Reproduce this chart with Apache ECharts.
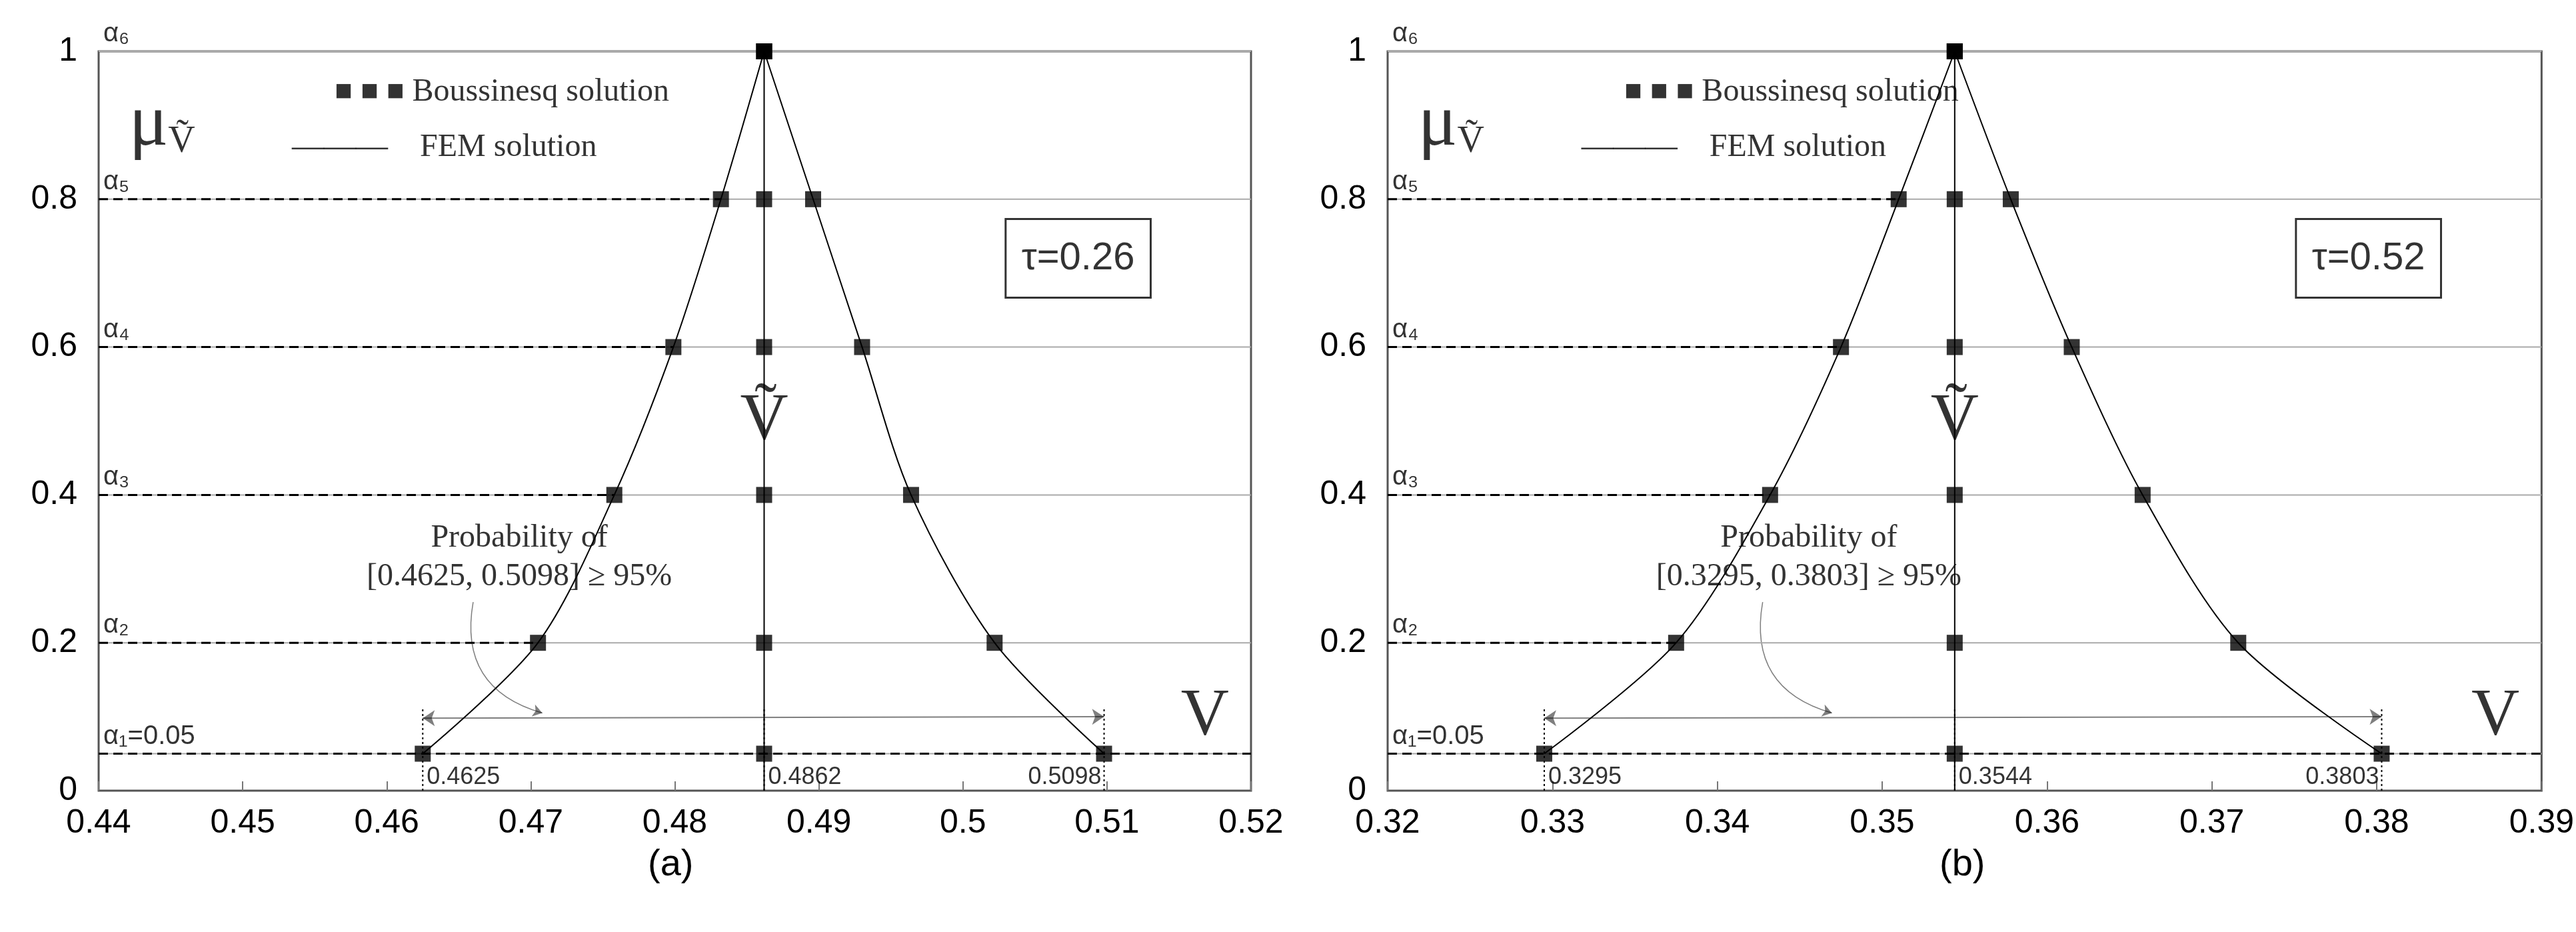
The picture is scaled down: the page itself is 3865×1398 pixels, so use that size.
<!DOCTYPE html>
<html><head><meta charset="utf-8">
<script src="https://cdn.jsdelivr.net/npm/echarts@6/dist/echarts.min.js"></script>
<style>html,body{margin:0;background:#fff}#c{width:3865px;height:1398px}</style>
</head><body><div id="c"></div>
<script>
// membership levels
const alphaLevels = [0.05, 0.2, 0.4, 0.6, 0.8, 1];
const alphaNames = ['α₁=0.05', 'α₂', 'α₃', 'α₄', 'α₅', 'α₆'];
// panel (a), tau = 0.26
const leftA = [0.4625, 0.4705, 0.4758, 0.4799, 0.4832, 0.4862];
const rightA = [0.5098, 0.5022, 0.4964, 0.4930, 0.4896, 0.4862];
const ticksA = { min: 0.44, max: 0.52, interval: 0.01 };
// panel (b), tau = 0.52
const leftB = [0.3295, 0.3375, 0.3432, 0.3475, 0.3510, 0.3544];
const rightB = [0.3803, 0.3716, 0.3658, 0.3615, 0.3578, 0.3544];
const ticksB = { min: 0.32, max: 0.39, interval: 0.01 };

const chart = echarts.init(document.getElementById('c'));
const serif = 'Liberation Serif';
const sans = 'Liberation Sans';

function panel(i, L, R, ax, tau) {
  const span = ax.max - ax.min;
  const mid = L[L.length - 1];
  const base = { xAxisIndex: i, yAxisIndex: i, silent: true, animation: false };
  const s = [];
  // horizontal levels
  alphaLevels.forEach((a, k) => {
    s.push({ ...base, type: 'line', symbol: 'none', data: [[ax.min, a], [ax.max, a]],
      lineStyle: { color: '#aaa', width: 2 } });
    if (k < 5) s.push({ ...base, type: 'line', symbol: 'none', data: [[ax.min, a], [k === 0 ? ax.max : L[k], a]],
      lineStyle: { color: '#000', width: 3, type: [14, 8] } });
  });
  // alpha labels
  s.push({ ...base, type: 'scatter', symbolSize: 0,
    data: alphaLevels.map((a, k) => ({ value: [ax.min + span * 0.004, a], label: { formatter: alphaNames[k] } })),
    label: { show: true, position: 'top', align: 'left', distance: 6, fontFamily: sans, fontSize: 40, color: '#000' } });
  // FEM curves
  s.push({ ...base, type: 'line', smooth: 0.3, symbol: 'none', data: L.map((v, k) => [v, alphaLevels[k]]), lineStyle: { color: '#000', width: 2 } });
  s.push({ ...base, type: 'line', smooth: 0.3, symbol: 'none', data: R.map((v, k) => [v, alphaLevels[k]]), lineStyle: { color: '#000', width: 2 } });
  s.push({ ...base, type: 'line', symbol: 'none', data: [[mid, 0], [mid, 1]], lineStyle: { color: '#000', width: 2 } });
  // Boussinesq markers
  const pts = [];
  alphaLevels.forEach((a, k) => { pts.push([L[k], a], [R[k], a], [mid, a]); });
  s.push({ ...base, type: 'scatter', symbol: 'rect', symbolSize: 24, itemStyle: { color: '#000' }, data: pts, z: 5 });
  // dotted verticals at interval bounds
  [L[0], mid, R[0]].forEach(v => s.push({ ...base, type: 'line', symbol: 'none', data: [[v, 0], [v, 0.11]],
    lineStyle: { color: '#000', width: 2, type: [3, 4] } }));
  // bound value labels
  s.push({ ...base, type: 'scatter', symbolSize: 0,
    data: [L[0], mid, R[0]].map((v, k) => ({ value: [v, 0.0], label: { formatter: v.toFixed(4), align: k === 2 ? 'right' : 'left', offset: [k === 2 ? -4 : 6, 0] } })),
    label: { show: true, position: 'top', distance: 2, fontFamily: sans, fontSize: 36, color: '#000' } });
  // interval arrow and curved pointer
  s.push({ ...base, type: 'lines', coordinateSystem: 'cartesian2d',
    data: [{ coords: [[L[0], 0.098], [R[0], 0.1]], symbol: ['arrow', 'arrow'], symbolSize: 18, lineStyle: { curveness: 0, width: 2 } },
           { coords: [[ax.min + span * 0.325, 0.255], [ax.min + span * 0.385, 0.105]], symbol: ['none', 'arrow'], symbolSize: 14, lineStyle: { curveness: -0.45, width: 1.5 } }],
    lineStyle: { color: '#000' } });
  // texts
  const txt = (x, y, f, style) => s.push({ ...base, type: 'scatter', symbolSize: 0, data: [[x, y]],
    label: { show: true, position: 'inside', formatter: f, color: '#000', ...style } });
  txt(ax.min + span * 0.365, 0.315, 'Probability of\n[' + L[0].toFixed(4) + ', ' + R[0].toFixed(4) + '] ≥ 95%',
    { fontFamily: serif, fontSize: 48, lineHeight: 58, align: 'center' });
  txt(mid, 0.5, 'Ṽ', { fontFamily: serif, fontSize: 100, align: 'center' });
  txt(ax.max - span * 0.04, 0.1, 'V', { fontFamily: serif, fontSize: 100 });
  txt(ax.min + span * 0.055, 0.9, '{m|μ}{s|Ṽ}', { rich: { m: { fontSize: 110, fontFamily: serif }, s: { fontSize: 56, fontFamily: serif, padding: [50, 0, 0, 0] } } });
  txt(ax.min + span * 0.35, 0.945, '{b|■ ■ ■} Boussinesq solution', { fontFamily: serif, fontSize: 48, rich: { b: { fontSize: 44, fontFamily: sans } } });
  txt(ax.min + span * 0.3, 0.87, '———    FEM solution', { fontFamily: serif, fontSize: 48 });
  txt(ax.max - span * 0.15, 0.72, 'τ=' + tau, { fontFamily: sans, fontSize: 58, borderColor: '#000', borderWidth: 3, padding: [30, 24] });
  return s;
}

const grids = [
  { left: 148, width: 1729, top: 77, height: 1109, show: true, borderColor: '#555', borderWidth: 3 },
  { left: 2082, width: 1734, top: 77, height: 1109, show: true, borderColor: '#555', borderWidth: 3 }
];
const xAx = (i, ax) => ({ gridIndex: i, type: 'value', min: ax.min, max: ax.max, interval: ax.interval,
  splitLine: { show: false }, axisLine: { show: false },
  axisTick: { show: true, inside: true, length: 14, lineStyle: { color: '#777', width: 2 } },
  axisLabel: { fontFamily: sans, fontSize: 50, color: '#000', margin: 24, formatter: v => +v.toFixed(2) + '' } });
const yAx = i => ({ gridIndex: i, type: 'value', min: 0, max: 1, interval: 0.2,
  splitLine: { show: false }, axisLine: { show: false }, axisTick: { show: false },
  axisLabel: { fontFamily: sans, fontSize: 50, color: '#000', margin: 32, formatter: v => +v.toFixed(1) + '' } });

chart.setOption({
  animation: false,
  grid: grids,
  xAxis: [xAx(0, ticksA), xAx(1, ticksB)],
  yAxis: [yAx(0), yAx(1)],
  graphic: [
    { type: 'text', left: 972, top: 1270, style: { text: '(a)', font: '56px ' + sans, fill: '#000' } },
    { type: 'text', left: 2910, top: 1270, style: { text: '(b)', font: '56px ' + sans, fill: '#000' } }
  ],
  series: [...panel(0, leftA, rightA, ticksA, '0.26'), ...panel(1, leftB, rightB, ticksB, '0.52')]
});
</script></body></html>
